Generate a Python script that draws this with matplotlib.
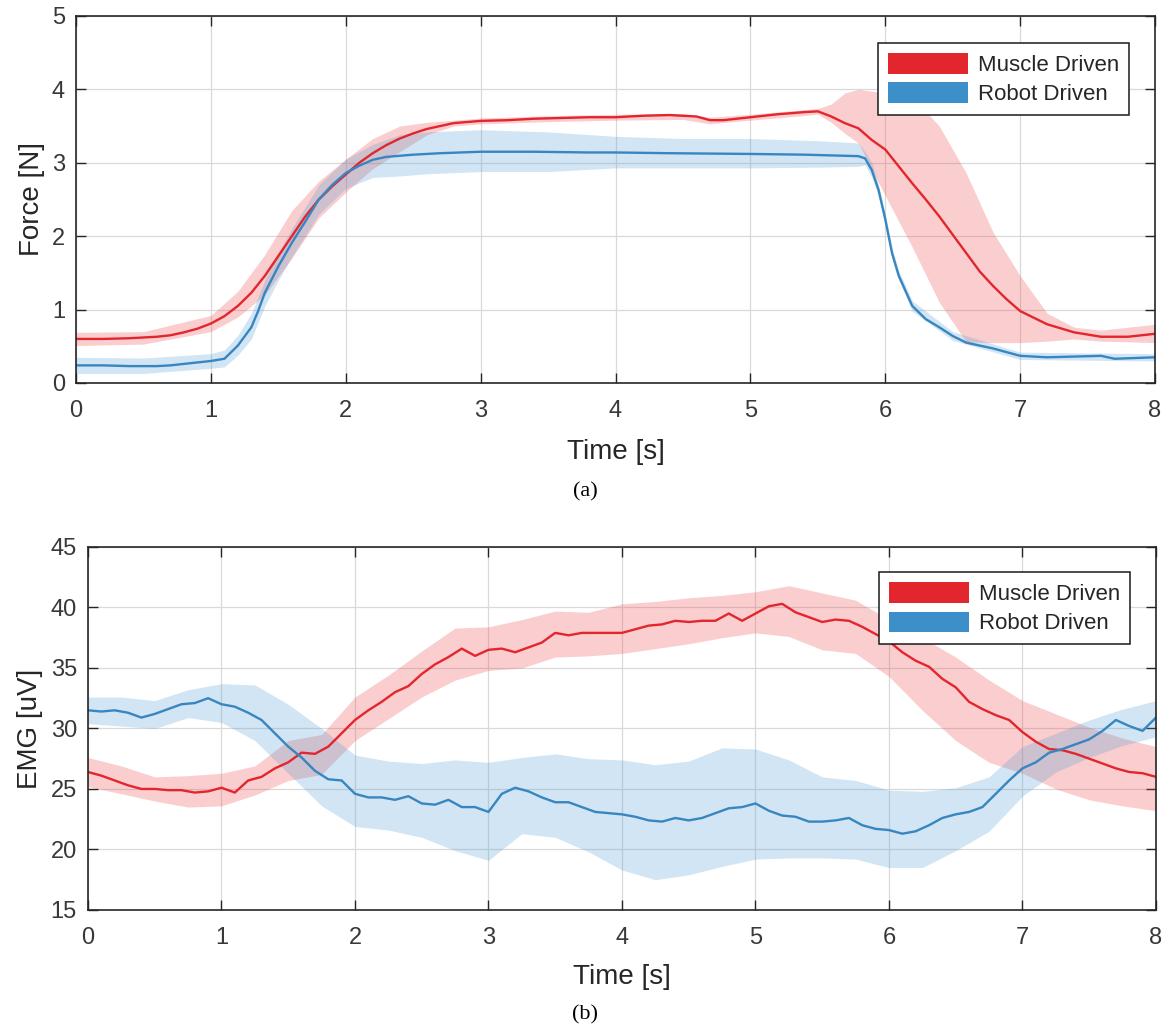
import numpy as np
import matplotlib
matplotlib.use("Agg")
import matplotlib.pyplot as plt
from matplotlib.patches import Patch

# ---- force traces (mean curves) ----
force_muscle_t = [0, 0.2, 0.4, 0.6, 0.7, 0.8, 0.9, 1.0, 1.1, 1.2, 1.3, 1.4, 1.5, 1.6, 1.7,
                  1.8, 1.9, 2.0, 2.1, 2.2, 2.3, 2.4, 2.5, 2.6, 2.7, 2.8, 3.0, 3.2, 3.4, 3.6,
                  3.8, 4.0, 4.2, 4.4, 4.6, 4.7, 4.8, 5.0, 5.2, 5.4, 5.5, 5.6, 5.7, 5.8, 5.9,
                  6.0, 6.1, 6.2, 6.3, 6.4, 6.5, 6.6, 6.7, 6.8, 6.9, 7.0, 7.2, 7.4, 7.6, 7.8, 8.0]
force_muscle = [0.60, 0.60, 0.61, 0.63, 0.65, 0.69, 0.74, 0.81, 0.91, 1.05, 1.23, 1.46, 1.73,
                2.00, 2.27, 2.50, 2.68, 2.84, 3.00, 3.13, 3.24, 3.33, 3.40, 3.46, 3.50, 3.54,
                3.57, 3.58, 3.60, 3.61, 3.62, 3.62, 3.64, 3.65, 3.63, 3.58, 3.58, 3.62, 3.66,
                3.69, 3.70, 3.63, 3.54, 3.47, 3.31, 3.18, 2.95, 2.72, 2.50, 2.27, 2.02, 1.77,
                1.52, 1.32, 1.14, 0.98, 0.80, 0.69, 0.63, 0.63, 0.67]

force_robot_t = [0, 0.2, 0.4, 0.6, 0.7, 0.8, 0.9, 1.0, 1.1, 1.2, 1.3, 1.35, 1.4, 1.5, 1.6,
                 1.7, 1.8, 1.9, 2.0, 2.1, 2.2, 2.3, 2.5, 2.7, 3.0, 3.4, 3.8, 4.0, 4.4, 5.0,
                 5.4, 5.6, 5.8, 5.85, 5.9, 5.95, 6.0, 6.05, 6.1, 6.2, 6.3, 6.4, 6.5, 6.6,
                 6.8, 7.0, 7.2, 7.4, 7.6, 7.7, 8.0]
force_robot = [0.24, 0.24, 0.23, 0.23, 0.24, 0.26, 0.28, 0.30, 0.33, 0.51, 0.76, 0.98, 1.23,
               1.59, 1.91, 2.20, 2.50, 2.70, 2.86, 2.96, 3.04, 3.08, 3.11, 3.13, 3.15, 3.15,
               3.14, 3.14, 3.13, 3.12, 3.11, 3.10, 3.09, 3.06, 2.90, 2.63, 2.23, 1.77, 1.46,
               1.05, 0.87, 0.76, 0.64, 0.55, 0.47, 0.37, 0.35, 0.36, 0.37, 0.33, 0.35]

# ---- force spread (upper / lower envelope) ----
fm_band_t = [0, 0.5, 1.0, 1.2, 1.4, 1.6, 1.8, 2.0, 2.2, 2.4, 2.6, 2.8, 3.0, 3.5, 4.0, 4.5,
             4.7, 5.0, 5.5, 5.6, 5.7, 5.8, 6.0, 6.2, 6.4, 6.6, 6.8, 7.0, 7.2, 7.4, 7.6, 8.0]
fm_band_hi = [0.69, 0.70, 0.92, 1.25, 1.75, 2.35, 2.75, 3.05, 3.33, 3.50, 3.55, 3.58, 3.61,
              3.64, 3.66, 3.67, 3.62, 3.66, 3.74, 3.80, 3.95, 4.00, 3.95, 3.90, 3.50, 2.86,
              2.05, 1.46, 0.95, 0.76, 0.72, 0.80]
fm_band_lo = [0.51, 0.53, 0.70, 0.90, 1.20, 1.70, 2.25, 2.60, 2.92, 3.15, 3.38, 3.50, 3.53,
              3.56, 3.58, 3.59, 3.53, 3.58, 3.66, 3.55, 3.40, 3.27, 2.55, 1.85, 1.10, 0.56,
              0.55, 0.55, 0.57, 0.60, 0.57, 0.55]

fr_band_t = [0, 0.5, 1.0, 1.1, 1.2, 1.3, 1.4, 1.5, 1.6, 1.8, 2.0, 2.2, 2.4, 2.6, 3.0, 3.5,
             4.0, 4.5, 5.0, 5.5, 5.8, 5.85, 5.9, 5.95, 6.0, 6.05, 6.1, 6.2, 6.5, 7.0, 7.5, 8.0]
fr_band_hi = [0.35, 0.34, 0.40, 0.45, 0.65, 0.95, 1.40, 1.78, 2.10, 2.70, 3.05, 3.25, 3.38,
              3.42, 3.45, 3.42, 3.36, 3.33, 3.33, 3.30, 3.27, 3.15, 3.00, 2.70, 2.30, 1.85,
              1.53, 1.12, 0.70, 0.42, 0.41, 0.40]
fr_band_lo = [0.13, 0.13, 0.20, 0.22, 0.38, 0.60, 1.05, 1.40, 1.72, 2.30, 2.65, 2.80, 2.82,
              2.85, 2.88, 2.88, 2.93, 2.93, 2.93, 2.94, 2.95, 2.97, 2.80, 2.55, 2.15, 1.70,
              1.40, 0.98, 0.58, 0.32, 0.31, 0.30]

# ---- EMG traces, sampled every 0.1 s ----
emg_t = np.linspace(0, 8, 81)
emg_muscle = [26.4, 26.1, 25.7, 25.3, 25.0, 25.0, 24.9, 24.9, 24.7, 24.8,
              25.1, 24.7, 25.7, 26.0, 26.7, 27.2, 28.0, 27.9, 28.5, 29.6,
              30.7, 31.5, 32.2, 33.0, 33.5, 34.5, 35.3, 35.9, 36.6, 36.0,
              36.5, 36.6, 36.3, 36.7, 37.1, 37.9, 37.7, 37.9, 37.9, 37.9,
              37.9, 38.2, 38.5, 38.6, 38.9, 38.8, 38.9, 38.9, 39.5, 38.9,
              39.5, 40.1, 40.3, 39.6, 39.2, 38.8, 39.0, 38.9, 38.4, 37.8,
              37.2, 36.3, 35.6, 35.1, 34.1, 33.4, 32.2, 31.6, 31.1, 30.7,
              29.7, 28.9, 28.3, 28.2, 27.9, 27.5, 27.1, 26.7, 26.4, 26.3, 26.0]
emg_robot = [31.5, 31.4, 31.5, 31.3, 30.9, 31.2, 31.6, 32.0, 32.1, 32.5,
             32.0, 31.8, 31.3, 30.7, 29.6, 28.5, 27.6, 26.5, 25.8, 25.7,
             24.6, 24.3, 24.3, 24.1, 24.4, 23.8, 23.7, 24.1, 23.5, 23.5,
             23.1, 24.6, 25.1, 24.8, 24.3, 23.9, 23.9, 23.5, 23.1, 23.0,
             22.9, 22.7, 22.4, 22.3, 22.6, 22.4, 22.6, 23.0, 23.4, 23.5,
             23.8, 23.2, 22.8, 22.7, 22.3, 22.3, 22.4, 22.6, 22.0, 21.7,
             21.6, 21.3, 21.5, 22.0, 22.6, 22.9, 23.1, 23.5, 24.6, 25.7,
             26.7, 27.2, 28.0, 28.3, 28.7, 29.1, 29.8, 30.7, 30.2, 29.8, 30.9]

# ---- EMG spread, every 0.25 s ----
emg_band_t = np.linspace(0, 8, 33)
em_band_hi = [27.6, 26.9, 26.0, 26.1, 26.3, 26.9, 29.0, 29.5, 32.6, 34.4, 36.4, 38.3, 38.4,
              39.0, 39.7, 39.6, 40.3, 40.5, 40.8, 41.0, 41.3, 41.8, 41.2, 40.6, 39.0, 37.5,
              35.9, 34.0, 32.3, 31.2, 30.1, 29.2, 28.5]
em_band_lo = [25.2, 24.6, 24.0, 23.5, 23.6, 24.5, 25.7, 26.2, 29.0, 30.8, 32.6, 34.0, 34.8,
              35.0, 35.9, 36.0, 36.2, 36.6, 37.0, 37.5, 37.9, 37.6, 36.5, 36.2, 34.3, 31.5,
              29.0, 27.2, 26.3, 25.0, 24.1, 23.6, 23.2]
er_band_hi = [32.6, 32.6, 32.3, 33.2, 33.7, 33.6, 32.0, 30.0, 27.8, 27.3, 27.1, 27.4, 27.2,
              27.6, 27.9, 27.5, 27.4, 27.0, 27.3, 28.4, 28.3, 27.4, 26.0, 25.7, 24.9, 24.8,
              25.1, 26.0, 28.5, 29.6, 30.7, 31.6, 32.3]
er_band_lo = [30.4, 30.2, 30.0, 30.9, 30.5, 29.0, 26.3, 23.6, 21.9, 21.6, 21.0, 19.9, 19.1,
              21.3, 21.0, 19.8, 18.3, 17.5, 17.9, 18.6, 19.2, 19.3, 19.3, 19.2, 18.5, 18.5,
              19.9, 21.5, 24.4, 26.4, 27.6, 28.6, 29.3]

RED = '#e3262d'
BLUE = '#3786c0'
RED_FILL = '#ef3b3f'
BLUE_FILL = '#4a9ad4'
AX_COLOR = '#262626'

plt.rcParams['font.family'] = ['Liberation Sans', 'DejaVu Sans']

fig = plt.figure(figsize=(11.70, 10.34), dpi=100)
ax1 = fig.add_axes([0.065, 0.6296, 0.9222, 0.355])
ax2 = fig.add_axes([0.0752, 0.12, 0.9128, 0.351])


def style_axes(ax):
    ax.grid(True, color='#d9d9d9', linewidth=0.9)
    ax.set_axisbelow(True)
    for sp in ax.spines.values():
        sp.set_color(AX_COLOR)
        sp.set_linewidth(1.2)
    ax.tick_params(direction='in', top=True, right=True, length=7, width=1,
                   color=AX_COLOR, labelcolor='#383838', labelsize=17)
    ax.tick_params(axis='x', pad=12)
    ax.tick_params(axis='y', pad=8)


def add_legend(ax, anchor):
    handles = [Patch(facecolor=RED, edgecolor='none', label='Muscle Driven'),
               Patch(facecolor='#3d8fca', edgecolor='none', label='Robot Driven')]
    leg = ax.legend(handles=handles, loc='upper right', bbox_to_anchor=anchor,
                    borderaxespad=0, fontsize=16, handlelength=3.6, handleheight=1.05,
                    handletextpad=0.45, labelspacing=0.28, borderpad=0.45,
                    fancybox=False, framealpha=1, edgecolor='#1a1a1a')
    leg.get_frame().set_linewidth(1.1)
    for txt in leg.get_texts():
        txt.set_color('#262626')


# (a) force
ax1.fill_between(fm_band_t, fm_band_lo, fm_band_hi, color=RED_FILL, alpha=0.25, linewidth=0)
ax1.fill_between(fr_band_t, fr_band_lo, fr_band_hi, color=BLUE_FILL, alpha=0.25, linewidth=0)
ax1.plot(force_muscle_t, force_muscle, color=RED, linewidth=1.7)
ax1.plot(force_robot_t, force_robot, color=BLUE, linewidth=1.7)
ax1.set_xlim(0, 8)
ax1.set_ylim(0, 5)
ax1.set_xticks(range(0, 9))
ax1.set_yticks(range(0, 6))
style_axes(ax1)
ax1.set_xlabel('Time [s]', fontsize=20, color='#262626')
ax1.set_ylabel('Force [N]', fontsize=20, color='#262626')
ax1.xaxis.set_label_coords(0.5, -0.152)
ax1.yaxis.set_label_coords(-0.029, 0.5)
add_legend(ax1, (0.976, 0.926))

# (b) EMG
ax2.fill_between(emg_band_t, em_band_lo, em_band_hi, color=RED_FILL, alpha=0.25, linewidth=0)
ax2.fill_between(emg_band_t, er_band_lo, er_band_hi, color=BLUE_FILL, alpha=0.25, linewidth=0)
ax2.plot(emg_t, emg_muscle, color=RED, linewidth=1.7)
ax2.plot(emg_t, emg_robot, color=BLUE, linewidth=1.7)
ax2.set_xlim(0, 8)
ax2.set_ylim(15, 45)
ax2.set_xticks(range(0, 9))
ax2.set_yticks(range(15, 50, 5))
style_axes(ax2)
ax2.set_xlabel('Time [s]', fontsize=20, color='#262626')
ax2.set_ylabel('EMG [uV]', fontsize=20, color='#262626')
ax2.xaxis.set_label_coords(0.5, -0.148)
ax2.yaxis.set_label_coords(-0.042, 0.5)
add_legend(ax2, (0.976, 0.930))

fig.text(0.5, 1 - 492 / 1034, '(a)', ha='center', va='center',
         family=['Liberation Serif', 'DejaVu Serif'], fontsize=16)
fig.text(0.5, 1 - 1015 / 1034, '(b)', ha='center', va='center',
         family=['Liberation Serif', 'DejaVu Serif'], fontsize=16)

fig.savefig('out.png', dpi=100)
